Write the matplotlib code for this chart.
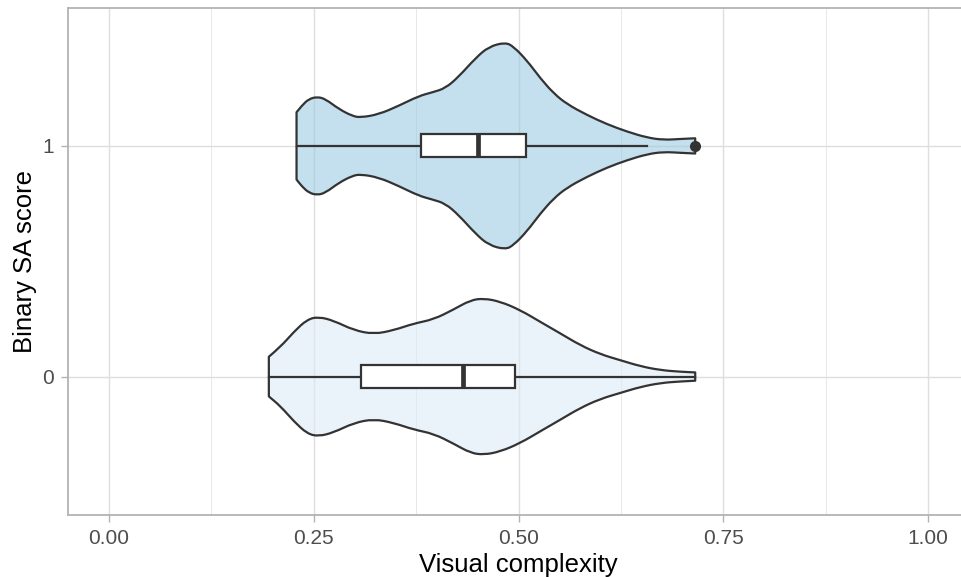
import numpy as np
import matplotlib.pyplot as plt
from matplotlib.path import Path
from matplotlib.patches import PathPatch
from matplotlib.ticker import MultipleLocator

plt.rcParams["font.family"] = ["Liberation Sans", "DejaVu Sans"]

# Violin outlines: visual complexity vs. density half-width (category units)
VC_1 = [0.2289, 0.2359, 0.2439, 0.2541, 0.2643, 0.2805, 0.2968, 0.3070,
        0.3293, 0.3537, 0.3780, 0.3944, 0.4106, 0.4268, 0.4472, 0.4634,
        0.4838, 0.4939, 0.5102, 0.5265, 0.5427, 0.5590, 0.5834, 0.6078,
        0.6322, 0.6566, 0.6768, 0.6972, 0.7155]
HW_1 = [0.146, 0.177, 0.203, 0.213, 0.203, 0.160, 0.130, 0.123,
        0.137, 0.174, 0.216, 0.232, 0.250, 0.300, 0.380, 0.430,
        0.449, 0.430, 0.370, 0.293, 0.228, 0.181, 0.134, 0.094,
        0.062, 0.036, 0.026, 0.030, 0.033]

VC_0 = [0.1951, 0.2094, 0.2256, 0.2420, 0.2561, 0.2744, 0.2988, 0.3232,
        0.3476, 0.3720, 0.3963, 0.4207, 0.4411, 0.4573, 0.4777, 0.5021,
        0.5265, 0.5509, 0.5752, 0.5996, 0.6240, 0.6484, 0.6728, 0.6972,
        0.7155]
HW_0 = [0.086, 0.129, 0.194, 0.248, 0.259, 0.242, 0.201, 0.184,
        0.201, 0.230, 0.248, 0.291, 0.331, 0.339, 0.325, 0.288,
        0.237, 0.187, 0.136, 0.097, 0.071, 0.045, 0.028, 0.021,
        0.018]

# Boxplot summaries: whisker low, Q1, median, Q3, whisker high
BOX_1 = [0.2289, 0.3813, 0.4508, 0.5094, 0.6566]
BOX_0 = [0.1951, 0.3078, 0.4326, 0.4960, 0.7155]
OUTLIERS_1 = [0.7155]
OUTLIERS_0 = []

GROUPS = ["0", "1"]
FILL_COLORS = ["#deebf7", "#9ecae1"]

EDGE = "#333333"


def smooth_segment(pts, first):
    """Quadratic Bezier run through the midpoints of consecutive points."""
    verts = [pts[0]]
    codes = [Path.MOVETO if first else Path.LINETO]
    for i in range(1, len(pts) - 1):
        mid = ((pts[i][0] + pts[i + 1][0]) / 2, (pts[i][1] + pts[i + 1][1]) / 2)
        verts += [pts[i], mid]
        codes += [Path.CURVE3, Path.CURVE3]
    verts.append(pts[-1])
    codes.append(Path.LINETO)
    return verts, codes


def violin_path(pos, vc, hw):
    top = [(x, pos + h) for x, h in zip(vc, hw)]
    bottom = [(x, pos - h) for x, h in zip(vc[::-1], hw[::-1])]
    v1, c1 = smooth_segment(top, True)
    v2, c2 = smooth_segment(bottom, False)
    verts = v1 + v2 + [top[0]]
    codes = c1 + c2 + [Path.CLOSEPOLY]
    return Path(verts, codes)


def draw_violin(ax, pos, vc, hw, color):
    path = violin_path(pos, vc, hw)
    ax.add_patch(PathPatch(path, facecolor=color, alpha=0.6,
                           edgecolor="none", zorder=2))
    ax.add_patch(PathPatch(path, facecolor="none", edgecolor=EDGE,
                           linewidth=1.6, joinstyle="round", zorder=3))


def draw_box(ax, pos, stats, outliers, half=0.05):
    lo, q1, med, q3, hi = stats
    ax.plot([lo, q1], [pos, pos], color=EDGE, lw=1.6, zorder=4)
    ax.plot([q3, hi], [pos, pos], color=EDGE, lw=1.6, zorder=4)
    ax.add_patch(plt.Rectangle((q1, pos - half), q3 - q1, 2 * half,
                               facecolor="white", edgecolor=EDGE, lw=1.6,
                               zorder=4))
    ax.plot([med, med], [pos - half, pos + half], color=EDGE, lw=3.4,
            solid_capstyle="butt", zorder=5)
    if outliers:
        ax.plot(outliers, [pos] * len(outliers), "o", color=EDGE,
                markersize=7, zorder=6)


fig = plt.figure(figsize=(9.61, 5.77), dpi=100)
ax = fig.add_axes([0.0708, 0.1075, 0.9378, 0.8795])

draw_violin(ax, 1, VC_1, HW_1, FILL_COLORS[1])
draw_violin(ax, 0, VC_0, HW_0, FILL_COLORS[0])
draw_box(ax, 1, BOX_1, OUTLIERS_1)
draw_box(ax, 0, BOX_0, OUTLIERS_0)

ax.set_xlim(-0.05, 1.05)
ax.set_ylim(-0.6, 1.6)
ax.xaxis.set_minor_locator(MultipleLocator(0.125))
ax.set_xticks([0, 0.25, 0.5, 0.75, 1.0])
ax.set_xticklabels(["0.00", "0.25", "0.50", "0.75", "1.00"])
ax.set_yticks([0, 1])
ax.set_yticklabels(GROUPS)

ax.grid(which="major", color="#dedede", linewidth=1.0, zorder=0)
ax.grid(which="minor", axis="x", color="#e4e4e4", linewidth=0.6, zorder=0)
ax.set_axisbelow(True)

for side in ax.spines.values():
    side.set_color("#b3b3b3")
    side.set_linewidth(1.3)

ax.tick_params(which="major", length=5, width=1.0, color="#b3b3b3",
               labelsize=15, labelcolor="#4d4d4d", pad=5)
ax.tick_params(which="minor", length=0)

ax.set_xlabel("Visual complexity", fontsize=18.5, labelpad=4)
ax.set_ylabel("Binary SA score", fontsize=18.5, labelpad=4)

fig.savefig("out.png", dpi=100)
